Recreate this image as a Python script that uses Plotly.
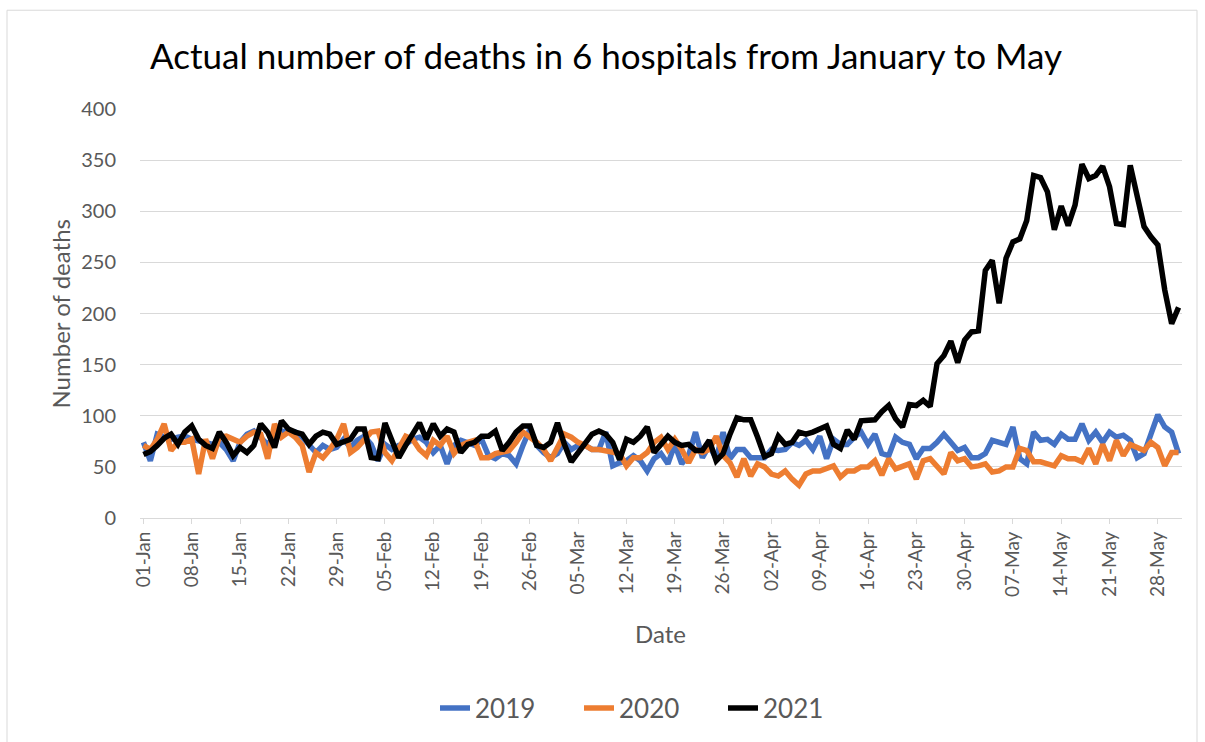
import pandas as pd
import plotly.graph_objects as go

# ---------------- data ----------------
start_date = "2021-01-01"
n_days = 151

deaths_2019 = [
    74, 56, 82, 79, 77, 79, 80, 77, 76, 74,
    72, 74, 67, 56, 74, 82, 85, 79, 72, 80,
    85, 84, 84, 79, 71, 64, 71, 67, 69, 77,
    69, 76, 80, 72, 56, 72, 67, 71, 72, 77,
    79, 74, 64, 71, 53, 71, 76, 74, 71, 77,
    61, 58, 63, 61, 53, 71, 87, 71, 64, 59,
    63, 74, 67, 71, 71, 67, 67, 84, 51, 54,
    56, 61, 56, 46, 58, 63, 53, 72, 53, 61,
    84, 59, 71, 58, 84, 58, 67, 67, 59, 59,
    59, 67, 66, 67, 74, 71, 76, 67, 80, 58,
    77, 72, 72, 79, 84, 72, 82, 63, 61, 79,
    74, 72, 58, 68, 68, 74, 82, 74, 66, 69,
    59, 59, 63, 76, 74, 72, 89, 58, 53, 84,
    76, 77, 72, 82, 77, 77, 92, 76, 84, 74,
    84, 79, 81, 76, 59, 63, 82, 101, 89, 84,
    63,
]

deaths_2020 = [
    71, 67, 77, 92, 66, 74, 74, 77, 43, 77,
    58, 79, 80, 77, 74, 80, 84, 82, 58, 92,
    79, 84, 79, 71, 45, 64, 59, 67, 77, 92,
    64, 69, 76, 84, 85, 64, 56, 69, 80, 77,
    67, 61, 76, 71, 80, 63, 71, 74, 76, 59,
    59, 63, 64, 66, 74, 84, 79, 74, 67, 56,
    69, 82, 79, 74, 71, 67, 67, 66, 64, 63,
    51, 59, 59, 64, 74, 79, 67, 77, 67, 54,
    67, 64, 67, 80, 61, 54, 40, 58, 41, 53,
    50, 43, 41, 46, 38, 32, 43, 46, 46, 48,
    51, 40, 46, 46, 50, 50, 56, 42, 58, 48,
    50, 53, 38, 56, 58, 51, 43, 64, 56, 58,
    50, 51, 53, 45, 46, 50, 50, 68, 66, 55,
    55, 53, 51, 61, 58, 58, 55, 68, 53, 72,
    56, 76, 61, 72, 69, 66, 74, 69, 51, 64,
    64,
]

deaths_2021 = [
    62, 65, 71, 78, 82, 72, 84, 90, 77, 71,
    68, 84, 74, 61, 69, 64, 71, 92, 84, 69,
    95, 87, 84, 82, 72, 80, 84, 82, 72, 74,
    77, 87, 87, 59, 58, 93, 77, 59, 71, 82,
    93, 77, 92, 80, 87, 84, 64, 72, 74, 80,
    80, 85, 66, 74, 84, 90, 90, 71, 69, 74,
    93, 72, 55, 64, 74, 82, 85, 82, 74, 57,
    77, 74, 80, 89, 64, 72, 80, 74, 71, 72,
    66, 66, 76, 56, 63, 82, 98, 96, 96, 79,
    60, 63, 80, 72, 74, 84, 82, 84, 87, 90,
    72, 68, 86, 77, 95, 95, 96, 104, 110, 97,
    89, 111, 110, 115, 109, 151, 159, 173, 152, 174,
    182, 183, 242, 252, 210, 254, 270, 273, 291, 335,
    333, 319, 282, 305, 286, 306, 346, 332, 335, 344,
    324, 288, 287, 345, 314, 285, 275, 267, 223, 190,
    206,
]

series_names = ["2019", "2020", "2021"]
series_colors = ["#4472C4", "#ED7D31", "#000000"]

tick_labels = ["01-Jan", "08-Jan", "15-Jan", "22-Jan", "29-Jan", "05-Feb",
               "12-Feb", "19-Feb", "26-Feb", "05-Mar", "12-Mar", "19-Mar",
               "26-Mar", "02-Apr", "09-Apr", "16-Apr", "23-Apr", "30-Apr",
               "07-May", "14-May", "21-May", "28-May"]

y_ticks = [0, 50, 100, 150, 200, 250, 300, 350, 400]

# ---------------- figure ----------------
dates = pd.date_range(start_date, periods=n_days, freq="D")
tick_dates = dates[::7][:len(tick_labels)]

FONT = "Lato, 'Open Sans', sans-serif"
GREY = "#595959"
GRID = "#D9D9D9"

fig = go.Figure()
for name, vals, col in zip(series_names, [deaths_2019, deaths_2020, deaths_2021], series_colors):
    fig.add_trace(go.Scatter(
        x=dates, y=vals, mode="lines", name=name,
        line=dict(color=col, width=5.5, shape="linear"),
    ))

L, R, T, B = 140, 23, 109, 223
W, H = 1205, 742
pw, ph = W - L - R, H - T - B

def px_x(px):
    return (px - L) / pw

def px_y(py):
    return (H - B - py) / ph

fig.update_layout(
    width=W, height=H,
    margin=dict(l=L, r=R, t=T, b=B),
    paper_bgcolor="white", plot_bgcolor="white",
    font=dict(family=FONT, color=GREY),
    title=dict(text="Actual number of deaths in 6 hospitals from January to May",
               font=dict(family=FONT, size=35, color="#000000"),
               x=606 / W, xanchor="center", xref="container",
               y=1 - 57 / H, yanchor="middle", yref="container"),
    xaxis=dict(
        type="date",
        range=[dates[0] - pd.Timedelta(hours=12), dates[-1] + pd.Timedelta(hours=12)],
        tickvals=list(tick_dates), ticktext=tick_labels,
        tickangle=-90, tickfont=dict(size=19, color=GREY, family=FONT),
        ticks="outside", ticklen=5, tickcolor=GRID,
        showline=True, linecolor=GRID, linewidth=1,
        showgrid=False, zeroline=False,
    ),
    yaxis=dict(
        range=[0, 400], tickvals=y_ticks,
        tickfont=dict(size=20, color=GREY, family=FONT),
        showgrid=True, gridcolor=GRID, gridwidth=1,
        zeroline=False, showline=False, ticks="", ticklabelstandoff=23,
    ),
    legend=dict(
        orientation="h", x=px_x(435), xanchor="left",
        y=px_y(708), yanchor="middle",
        font=dict(size=26, color=GREY, family=FONT),
        entrywidth=99, entrywidthmode="pixels",
        bgcolor="rgba(0,0,0,0)",
    ),
    showlegend=True,
    annotations=[
        dict(text="Number of deaths", x=px_x(60), y=px_y(315), xref="paper", yref="paper",
             textangle=-90, showarrow=False, font=dict(size=24, color=GREY, family=FONT),
             xanchor="center", yanchor="middle"),
        dict(text="Date", x=px_x(660), y=px_y(635), xref="paper", yref="paper",
             showarrow=False, font=dict(size=24, color=GREY, family=FONT),
             xanchor="center", yanchor="middle"),
    ],
    shapes=[
        dict(type="rect", xref="paper", yref="paper",
             x0=px_x(7), x1=px_x(1197), y0=px_y(760), y1=px_y(10),
             line=dict(color=GRID, width=1), fillcolor="rgba(0,0,0,0)", layer="below"),
    ],
)

fig.write_html("out.html", config={"displayModeBar": False},
               post_script="document.body.style.margin='0px';")
